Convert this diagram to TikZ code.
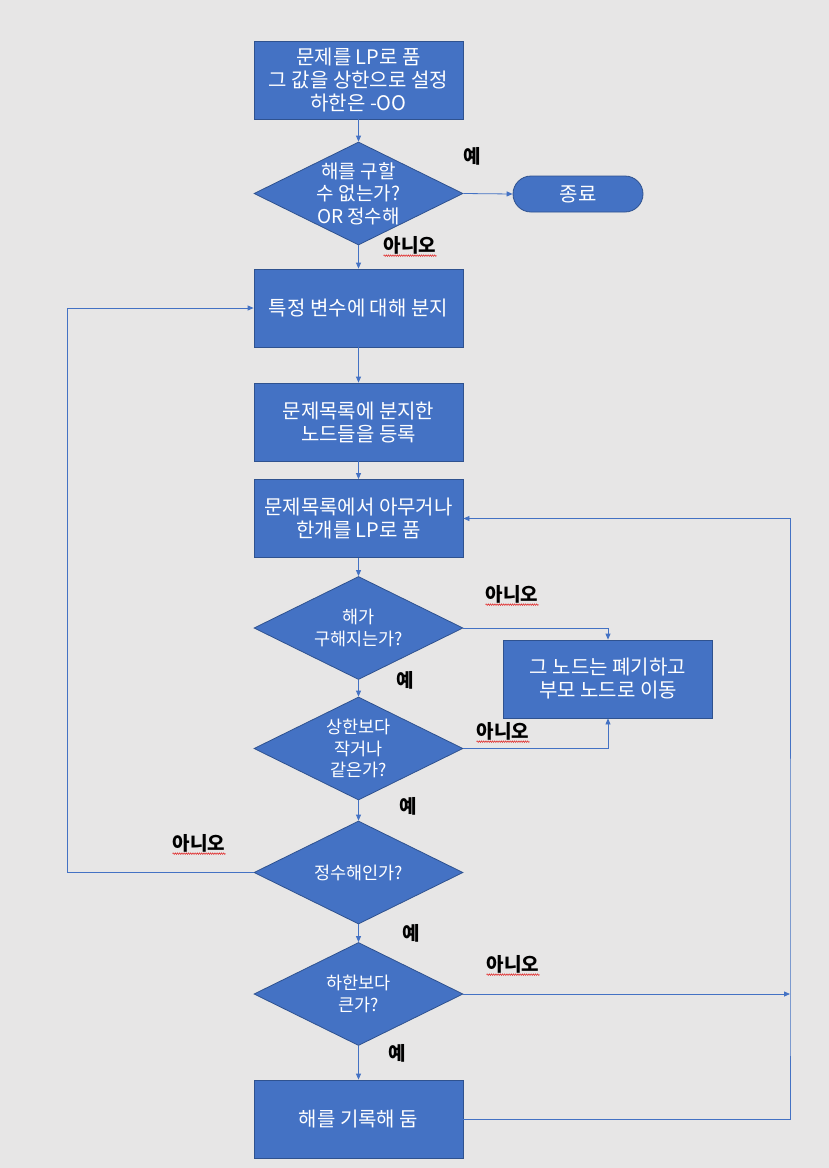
\documentclass[tikz,border=0pt]{standalone}
\usepackage{fontspec}
\setmainfont{Noto Sans CJK KR}
\usetikzlibrary{shapes.geometric,shapes.misc,arrows.meta,decorations.pathmorphing}
\definecolor{bg}{HTML}{E7E6E6}
\definecolor{blu}{HTML}{4472C4}
\definecolor{bord}{HTML}{2F528F}
\definecolor{squig}{HTML}{E02020}
\tikzset{
  procbox/.style={draw=bord, line width=0.8pt, fill=blu, text=white, minimum width=209pt, minimum height=78pt, inner sep=0pt, align=center, font=\fontsize{20}{23}\selectfont},
  decis/.style={diamond, draw=bord, line width=0.8pt, fill=blu, minimum width=209pt, minimum height=103pt, inner sep=0pt},
  dtext/.style={text=white, inner sep=0pt, align=center, font=\fontsize{17.5}{21.5}\selectfont},
  term/.style={rounded rectangle, draw=bord, line width=0.8pt, fill=blu, text=white, minimum width=130pt, minimum height=36pt, inner sep=0pt, font=\fontsize{20}{20}\selectfont},
  conn/.style={draw=blu, line width=0.8pt},
  arr/.style={conn, -{Triangle[length=6pt,width=5pt]}},
  lbl/.style={text=black, font=\bfseries\fontsize{19}{19}\selectfont, inner sep=0pt},
  wavy/.style={draw=squig, line width=0.5pt, decorate, decoration={zigzag, amplitude=0.8pt, segment length=2.2pt}}
}
\begin{document}
\begin{tikzpicture}[x=1pt,y=-1pt]
\fill[bg] (0,0) rectangle (829,1168);
\useasboundingbox (0,0) rectangle (829,1168);

\node[procbox] (b1) at (358.5,80) {문제를 LP로 품\\그 값을 상한으로 설정\\하한은 -OO};
\node[decis] (d1) at (358.5,193.5) {};
\node[dtext, font=\fontsize{19}{22.5}\selectfont] (t1) at (d1) {해를 구할\\수 없는가?\\OR 정수해};
\node[term] (end) at (578,194) {종료};
\node[procbox] (b2) at (358.5,308) {특정 변수에 대해 분지};
\node[procbox] (b3) at (358.5,422) {문제목록에 분지한\\노드들을 등록};
\node[procbox] (b4) at (358.5,518.5) {문제목록에서 아무거나\\한개를 LP로 품};
\node[decis] (d2) at (358.5,628) {};
\node[dtext] (t2) at (d2) {해가\\구해지는가?};
\node[procbox] (b5) at (608,679) {그 노드는 폐기하고\\부모 노드로 이동};
\node[decis] (d3) at (358.5,748.5) {};
\node[dtext] (t3) at (d3) {상한보다\\작거나\\같은가?};
\node[decis] (d4) at (358.5,872.5) {};
\node[dtext] (t4) at (d4) {정수해인가?};
\node[decis] (d5) at (358.5,994) {};
\node[dtext] (t5) at (d5) {하한보다\\큰가?};
\node[procbox] (b6) at (358.5,1119) {해를 기록해 둠};

\coordinate (cR) at (790,994);
\coordinate (cL) at (67,872.5);

\draw[arr] (b1) -- (d1);
\draw[arr] (d1.east) -- (end.west);
\draw[arr] (d1) -- (b2);
\draw[arr] (b2) -- (b3);
\draw[arr] (b3) -- (b4);
\draw[arr] (b4) -- (d2);
\draw[arr] (d2) -- (d3);
\draw[arr] (d3) -- (d4);
\draw[arr] (d4) -- (d5);
\draw[arr] (d5) -- (b6);
\draw[arr] (d2.east) -| (b5.north);
\draw[arr] (d3.east) -| (b5.south);
\draw[arr] (d4.west) -- (cL) |- (b2.west);
\draw[arr] (d5.east) -- (cR);
\draw[arr] (b6.east) -| (cR) |- (b4.east);

\node[lbl] (l1) at (472,156) {예};
\node[lbl] (l2) at (410,245) {아니오};
\node[lbl] (l3) at (512,594) {아니오};
\node[lbl] (l4) at (405,680) {예};
\node[lbl] (l5) at (503,731) {아니오};
\node[lbl] (l6) at (408,806) {예};
\node[lbl] (l7) at (199,843) {아니오};
\node[lbl] (l8) at (411,933) {예};
\node[lbl] (l9) at (513,964) {아니오};
\node[lbl] (l10) at (397,1053) {예};

\foreach \l in {l2,l3,l5,l7,l9}{
  \draw[wavy] ([yshift=-1.5pt]\l.south west) -- ([yshift=-1.5pt]\l.south east);
}
\end{tikzpicture}
\end{document}
